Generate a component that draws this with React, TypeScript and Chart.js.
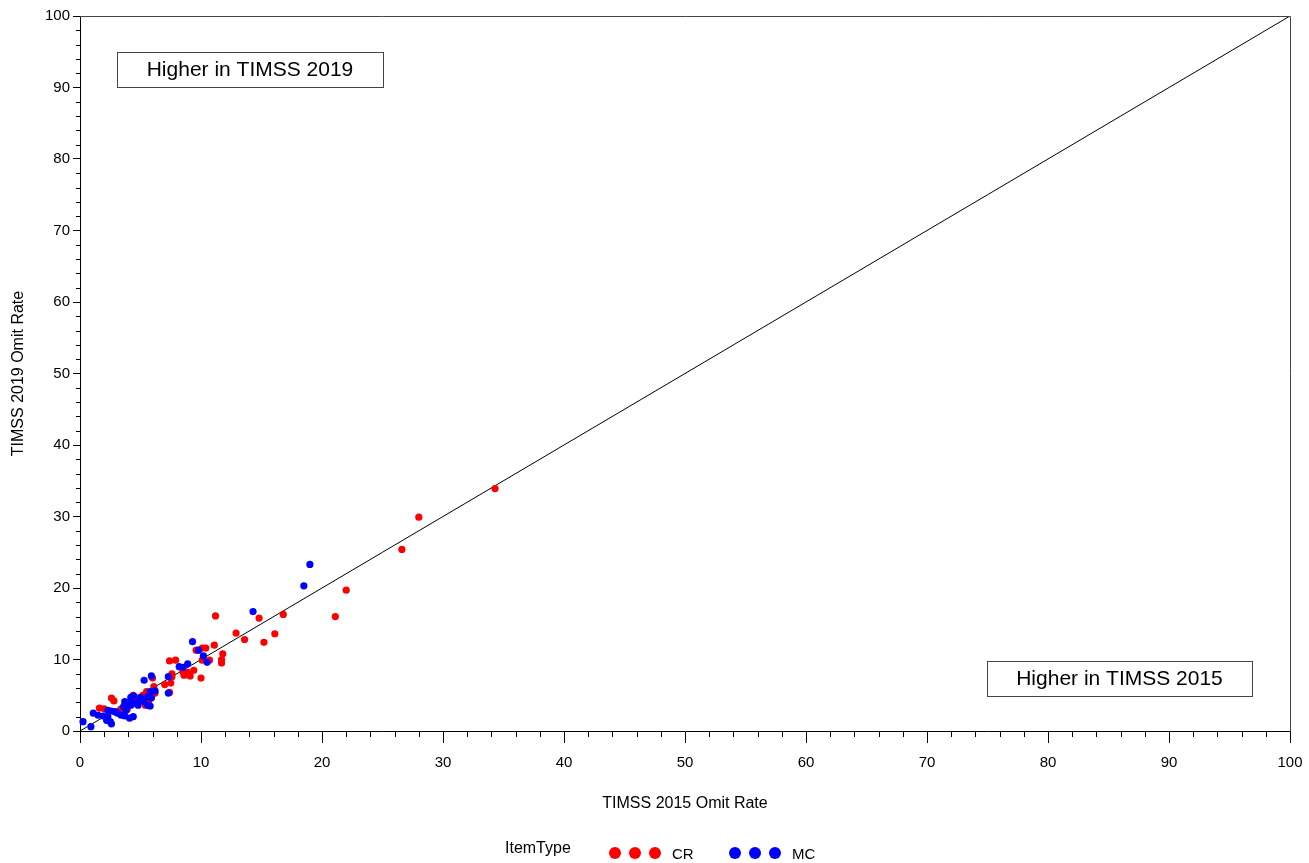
import React, { useEffect, useRef } from "react";
import { Chart, registerables } from "chart.js";

Chart.register(...registerables);

const xTickValues = [0, 10, 20, 30, 40, 50, 60, 70, 80, 90, 100];
const yTickValues = [0, 10, 20, 30, 40, 50, 60, 70, 80, 90, 100];

const crX = [34.3, 28.0, 26.6, 22.0, 21.1, 16.8, 16.1, 15.2, 14.8, 13.6, 12.9, 11.2, 11.1, 11.8, 11.7, 11.7, 10.1, 10.4, 9.6, 10.7, 10.1, 10.0, 7.4, 7.9, 8.6, 8.9, 9.1, 9.4, 8.5, 7.6, 7.6, 7.0, 7.5, 6.0, 6.1, 6.1, 7.4, 6.2, 5.9, 5.9, 5.7, 5.2, 5.5, 5.4, 4.5, 4.2, 4.4, 4.0, 3.7, 3.3, 3.4, 2.6, 2.8, 2.0, 1.6, 3.9];
const crY = [33.9, 29.9, 25.4, 19.7, 16.0, 16.3, 13.6, 12.4, 15.8, 12.8, 13.7, 16.1, 12.0, 10.8, 10.0, 9.5, 11.6, 11.6, 11.3, 9.9, 9.9, 7.4, 9.8, 9.9, 7.8, 8.2, 7.7, 8.5, 8.3, 7.6, 8.0, 6.5, 6.7, 7.4, 6.2, 5.7, 5.4, 5.3, 5.3, 4.8, 4.3, 5.0, 5.5, 3.6, 4.8, 4.1, 5.0, 3.9, 3.6, 2.9, 3.1, 4.6, 4.2, 3.1, 3.2, 3.0];

const mcX = [19.0, 18.5, 14.3, 9.3, 9.8, 10.2, 10.5, 8.2, 8.5, 8.9, 7.3, 5.9, 5.3, 7.3, 6.2, 5.8, 5.6, 5.9, 5.8, 5.6, 4.8, 4.4, 4.2, 4.9, 5.3, 4.0, 4.2, 4.5, 3.7, 3.8, 3.6, 0.25, 0.9, 1.1, 1.5, 1.9, 2.3, 2.3, 2.6, 2.9, 3.1, 2.2, 2.5, 2.6, 3.4, 3.7, 3.8, 4.1, 4.4, 5.0];
const mcY = [23.3, 20.3, 16.7, 12.5, 11.3, 10.5, 9.6, 9.0, 8.9, 9.4, 7.6, 7.7, 7.1, 5.3, 5.6, 5.5, 4.8, 4.6, 3.5, 3.6, 3.6, 4.9, 4.7, 4.3, 4.1, 3.9, 3.6, 3.9, 4.1, 3.9, 3.4, 1.3, 0.6, 2.5, 2.2, 2.1, 2.0, 2.9, 2.8, 2.7, 2.5, 1.5, 1.3, 1.0, 2.2, 2.1, 2.9, 1.8, 2.0, 4.7];

const lineX = [0, 100];
const lineY = [0, 100];

const FONT = "'Liberation Sans', Arial, sans-serif";

const decorPlugin = {
  id: "decor",
  afterDraw(chart: any) {
    const ctx = chart.ctx;
    const xs = chart.scales.x;
    const ys = chart.scales.y;
    const area = chart.chartArea;
    ctx.save();
    // top and right borders
    ctx.strokeStyle = "#444";
    ctx.lineWidth = 1;
    ctx.beginPath();
    ctx.moveTo(area.left, area.top + 0.5);
    ctx.lineTo(area.right + 0.5, area.top + 0.5);
    ctx.lineTo(area.right + 0.5, area.bottom);
    ctx.stroke();
    // minor ticks
    ctx.strokeStyle = "#000";
    ctx.beginPath();
    for (let v = 0; v <= 100; v += 2) {
      if (v % 10 === 0) continue;
      const px = Math.round(xs.getPixelForValue(v)) + 0.5;
      ctx.moveTo(px, area.bottom);
      ctx.lineTo(px, area.bottom + 6);
      const py = Math.round(ys.getPixelForValue(v)) + 0.5;
      ctx.moveTo(area.left, py);
      ctx.lineTo(area.left - 4, py);
    }
    ctx.stroke();
    // annotation boxes
    const boxes = [
      { text: "Higher in TIMSS 2019", x: 117, y: 52, w: 266, h: 35 },
      { text: "Higher in TIMSS 2015", x: 987, y: 661, w: 265, h: 35 },
    ];
    ctx.font = `21px ${FONT}`;
    ctx.textAlign = "center";
    ctx.textBaseline = "middle";
    for (const b of boxes) {
      ctx.fillStyle = "#fff";
      ctx.fillRect(b.x, b.y, b.w, b.h);
      ctx.strokeStyle = "#444";
      ctx.strokeRect(b.x + 0.5, b.y + 0.5, b.w, b.h);
      ctx.fillStyle = "#000";
      ctx.fillText(b.text, b.x + b.w / 2, b.y + b.h / 2 + 1);
    }
    // axis titles
    ctx.font = `16px ${FONT}`;
    ctx.fillText("TIMSS 2015 Omit Rate", (area.left + area.right) / 2, 804);
    ctx.save();
    ctx.translate(19, (area.top + area.bottom) / 2);
    ctx.rotate(-Math.PI / 2);
    ctx.fillText("TIMSS 2019 Omit Rate", 0, 0);
    ctx.restore();
    // legend
    ctx.textAlign = "left";
    ctx.fillText("ItemType", 505, 849);
    const drawDots = (x0: number, color: string) => {
      ctx.fillStyle = color;
      for (let i = 0; i < 3; i++) {
        ctx.beginPath();
        ctx.arc(x0 + i * 20, 853, 6, 0, Math.PI * 2);
        ctx.fill();
      }
    };
    drawDots(615, "#ff0000");
    drawDots(735, "#0000ff");
    ctx.fillStyle = "#000";
    ctx.font = `15px ${FONT}`;
    ctx.fillText("CR", 672, 855);
    ctx.fillText("MC", 792, 855);
    ctx.restore();
  },
};

export default function App() {
  const canvasRef = useRef<HTMLCanvasElement | null>(null);

  useEffect(() => {
    const canvas = canvasRef.current;
    if (!canvas) return;
    Chart.defaults.font.family = FONT;
    const chart = new Chart(canvas, {
      type: "scatter",
      data: {
        datasets: [
          {
            label: "MC",
            data: mcX.map((x, i) => ({ x, y: mcY[i] })),
            backgroundColor: "#0000ff",
            borderColor: "#0000ff",
            pointRadius: 3.6,
            pointBorderWidth: 0,
            clip: false,
            order: 1,
          } as any,
          {
            label: "CR",
            data: crX.map((x, i) => ({ x, y: crY[i] })),
            backgroundColor: "#ff0000",
            borderColor: "#ff0000",
            pointRadius: 3.6,
            pointBorderWidth: 0,
            clip: false,
            order: 2,
          } as any,
          {
            type: "line",
            label: "diag",
            data: lineX.map((x, i) => ({ x, y: lineY[i] })),
            borderColor: "#000",
            borderWidth: 1,
            pointRadius: 0,
            showLine: true,
            fill: false,
            order: 3,
          } as any,
        ],
      },
      options: {
        animation: false,
        responsive: false,
        maintainAspectRatio: false,
        layout: { padding: { left: 0, top: 16, right: 19, bottom: 0 } },
        plugins: {
          legend: { display: false },
          tooltip: { enabled: false },
          title: { display: false },
        },
        scales: {
          x: {
            type: "linear",
            min: 0,
            max: 100,
            afterBuildTicks: (s: any) => {
              s.ticks = xTickValues.map((v) => ({ value: v }));
            },
            afterFit: (s: any) => {
              s.height = 132;
              s.paddingLeft = 0;
              s.paddingRight = 0;
            },
            ticks: {
              color: "#000",
              font: { size: 15, family: FONT },
              padding: 11,
              maxRotation: 0,
            },
            grid: {
              display: true,
              drawOnChartArea: false,
              drawTicks: true,
              tickLength: 12,
              color: "#000",
            },
            border: { display: true, color: "#000" },
          },
          y: {
            type: "linear",
            min: 0,
            max: 100,
            afterBuildTicks: (s: any) => {
              s.ticks = yTickValues.map((v) => ({ value: v }));
            },
            afterFit: (s: any) => {
              s.width = 80;
              s.paddingTop = 0;
              s.paddingBottom = 0;
            },
            ticks: {
              color: "#000",
              font: { size: 15, family: FONT },
              padding: 3,
            },
            grid: {
              display: true,
              drawOnChartArea: false,
              drawTicks: true,
              tickLength: 7,
              color: "#000",
            },
            border: { display: true, color: "#000" },
          },
        },
      } as any,
      plugins: [decorPlugin],
    });
    return () => chart.destroy();
  }, []);

  return (
    <div style={{ position: "fixed", left: 0, top: 0, width: 1309, height: 863, background: "#fff" }}>
      <canvas ref={canvasRef} width={1309} height={863} style={{ display: "block" }} />
    </div>
  );
}
